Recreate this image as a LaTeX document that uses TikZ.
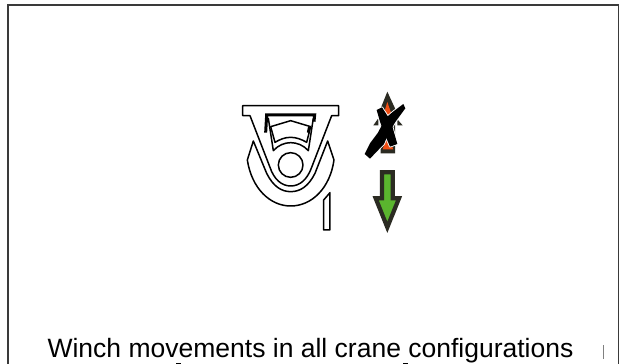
\documentclass[tikz,border=0pt]{standalone}
\usepackage{fontspec}
\setmainfont{Liberation Sans}
\definecolor{framegray}{HTML}{3A3A3A}
\definecolor{arrowdark}{HTML}{2B2B22}
\definecolor{arrowgreen}{HTML}{5AB52E}
\definecolor{arroworange}{HTML}{F04E14}
\tikzset{
  pic line/.style={draw=black,line width=1.5pt,line join=round,fill=white},
  open line/.style={draw=black,line width=1.5pt,line join=round,line cap=round},
  frame line/.style={draw=framegray,line width=1.2pt},
  cross halo/.style={draw=white,line width=1.8pt,line join=round},
  cross stroke/.style={fill=black},
  zoomA/.style={shift={(220,80)},x=0.3333pt,y=-0.3333pt},
  zoomB/.style={shift={(350,80)},x=0.3333pt,y=-0.3333pt},
  caption/.style={inner sep=0pt,anchor=base,font=\fontsize{26.5pt}{30pt}\selectfont}
}
\begin{document}
\begin{tikzpicture}[x=1pt,y=-1pt]
\useasboundingbox (0,0) rectangle (621,364);
\fill[white] (0,0) rectangle (621,364);
% frame
\draw[frame line] (8,364) -- (8,5) -- (618.5,5) -- (618.5,364);
\draw[draw=gray,line width=0.8pt] (603.5,345) -- (603.5,359);
% caption
\node[caption] (cap) at (310.5,357) {Winch movements in all crane configurations};
\fill[black] (176,362.6) rectangle (181,364);
\fill[black] (403,362.6) rectangle (408,364);
% winch symbol
\begin{scope}[zoomA]
  % outer shell
  \path[pic line] (100,183) -- (82,240) .. controls (95,325) and (150,378) .. (212,378)
     .. controls (275,378) and (330,325) .. (342,240) -- (323,183)
     -- (285,280) .. controls (265,320) and (240,335) .. (212,335)
     .. controls (185,335) and (160,320) .. (140,280) -- cycle;
  % bracket
  \path[pic line] (68,77) -- (356,77) -- (356,107) -- (335,107) -- (275,262)
     .. controls (262,298) and (240,318) .. (212,318)
     .. controls (185,318) and (162,298) .. (150,262) -- (90,107) -- (68,107) -- cycle;
  % wheel
  \path[pic line] (212,255) circle[radius=37];
  % window
  \draw[line width=3pt,line join=miter] (137,158) -- (140,105) -- (284,105) -- (282,125);
  \path[open line] (145,115) -- (160,212) .. controls (175,195) and (195,188) .. (212,188)
     .. controls (230,188) and (250,195) .. (265,212) -- (280,115);
  \path[pic line] (152,140) -- (212,122) -- (272,140) -- (260,187)
     .. controls (245,178) and (228,172) .. (212,172)
     .. controls (195,172) and (180,178) .. (165,187) -- cycle;
  \draw[line width=2.4pt] (268,140) -- (264,158);
  % pin
  \path[pic line] (311,450) -- (330,450) -- (330,338) -- (311,360) -- cycle;
\end{scope}
% arrows
\begin{scope}[zoomB]
  % crossed up arrow
  \fill[arrowdark] (112,35) -- (135,85) -- (135,220) -- (92,220) -- (92,85) -- cycle;
  \fill[arrowdark] (70,136) -- (85,115) -- (85,136) -- cycle;
  \fill[arrowdark] (158,136) -- (142,118) -- (142,136) -- cycle;
  \fill[arroworange] (112,66) -- (128,112) -- (98,112) -- cycle;
  \fill[arroworange] (112,165) -- (130,208) -- (98,208) -- cycle;
  % cross
  \path[cross halo] (80,90) -- (96,82) -- (122,122) -- (142,192) -- (120,200) -- (100,152) -- (90,125) -- cycle;
  \path[cross halo] (44,222) -- (60,236) -- (102,192) -- (116,160) -- (136,126) -- (166,85) -- (160,72)
     -- (128,96) -- (106,115) -- (84,158) -- (60,190) -- cycle;
  \path[cross stroke] (80,90) -- (96,82) -- (122,122) -- (142,192) -- (120,200) -- (100,152) -- (90,125) -- cycle;
  \path[cross stroke] (44,222) -- (60,236) -- (102,192) -- (116,160) -- (136,126) -- (166,85) -- (160,72)
     -- (128,96) -- (106,115) -- (84,158) -- (60,190) -- cycle;
  % down arrow
  \path[draw=arrowdark,line width=4.2pt,line join=miter,fill=arrowgreen]
    (96,277) -- (128,277) -- (128,355) -- (147,355) -- (112,442) -- (77,355) -- (96,355) -- cycle;
\end{scope}
\end{tikzpicture}
\end{document}
